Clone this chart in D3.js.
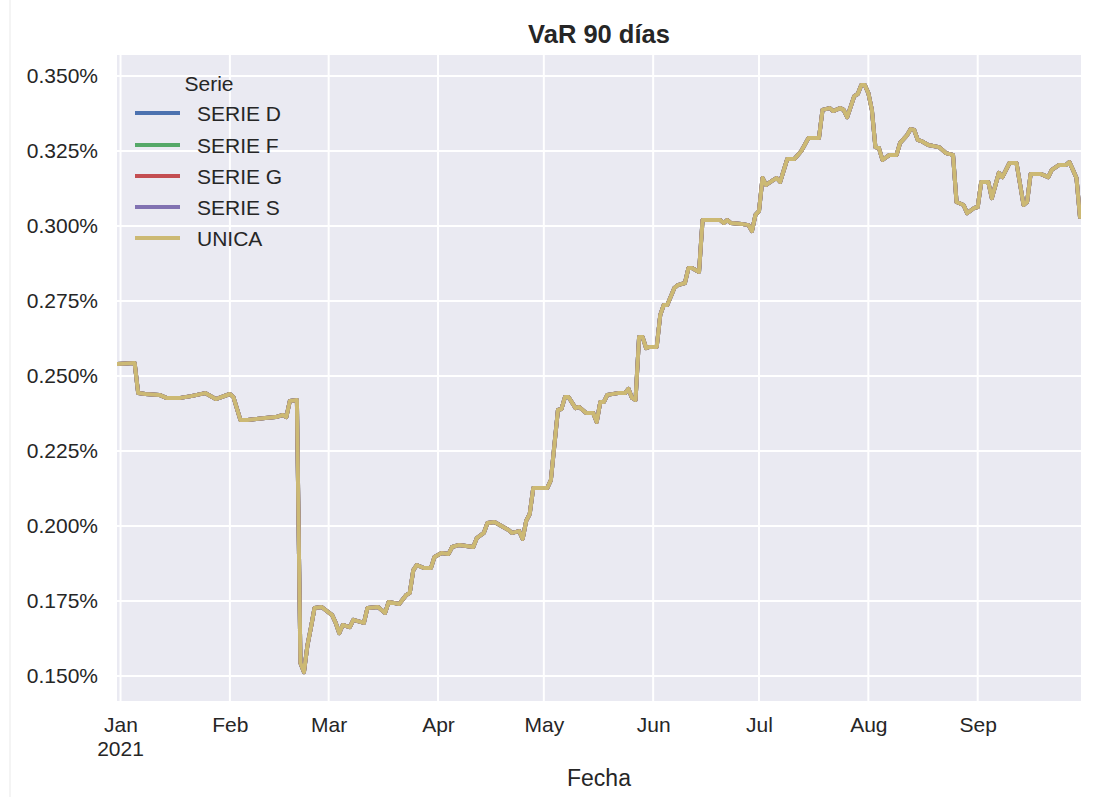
<!DOCTYPE html>
<html>
<head>
<meta charset="utf-8">
<script src="https://cdn.jsdelivr.net/npm/d3@7"></script>
<style>
html,body{margin:0;padding:0;background:#fff;}
svg{display:block;font-family:"Liberation Sans",Arial,Helvetica,sans-serif;}
</style>
</head>
<body>
<svg id="chart" width="1096" height="797"></svg>
<script>
const title = "VaR 90 días";
const xLabel = "Fecha";
const legendTitle = "Serie";
const seriesNames = ["SERIE D", "SERIE F", "SERIE G", "SERIE S", "UNICA"];
const seriesColors = ["#4c72b0", "#55a868", "#c44e52", "#8172b2", "#ccb974"];
const yTicks = [0.150, 0.175, 0.200, 0.225, 0.250, 0.275, 0.300, 0.325, 0.350];
const monthTicks = ["2021-01-01","2021-02-01","2021-03-01","2021-04-01","2021-05-01","2021-06-01","2021-07-01","2021-08-01","2021-09-01"];
const monthLabels = ["Jan","Feb","Mar","Apr","May","Jun","Jul","Aug","Sep"];

const dates = [
"2020-12-31","2021-01-05","2021-01-06","2021-01-08","2021-01-12","2021-01-14","2021-01-18","2021-01-21","2021-01-25","2021-01-28",
"2021-02-01","2021-02-02","2021-02-04","2021-02-06","2021-02-11","2021-02-14","2021-02-16","2021-02-17","2021-02-18","2021-02-20",
"2021-02-21","2021-02-22","2021-02-23","2021-02-24","2021-02-25","2021-02-27","2021-03-02","2021-03-03","2021-03-04","2021-03-05",
"2021-03-07","2021-03-08","2021-03-11","2021-03-12","2021-03-15","2021-03-17","2021-03-18","2021-03-21","2021-03-23","2021-03-24",
"2021-03-25","2021-03-26","2021-03-28","2021-03-30","2021-03-31","2021-04-02","2021-04-04","2021-04-05","2021-04-07","2021-04-11",
"2021-04-12","2021-04-14","2021-04-15","2021-04-17","2021-04-19","2021-04-21","2021-04-22","2021-04-24","2021-04-25","2021-04-26",
"2021-04-27","2021-04-28","2021-05-02","2021-05-03","2021-05-05","2021-05-06","2021-05-07","2021-05-08","2021-05-10","2021-05-11",
"2021-05-13","2021-05-15","2021-05-16","2021-05-17","2021-05-18","2021-05-19","2021-05-22","2021-05-24","2021-05-25","2021-05-26",
"2021-05-27","2021-05-28","2021-05-29","2021-05-30","2021-05-31","2021-06-02","2021-06-03","2021-06-04","2021-06-05","2021-06-07",
"2021-06-08","2021-06-10","2021-06-11","2021-06-12","2021-06-14","2021-06-15","2021-06-20","2021-06-21","2021-06-22","2021-06-23",
"2021-06-26","2021-06-28","2021-06-29","2021-06-30","2021-07-01","2021-07-02","2021-07-03","2021-07-05","2021-07-06","2021-07-07",
"2021-07-09","2021-07-11","2021-07-13","2021-07-15","2021-07-18","2021-07-19","2021-07-21","2021-07-22","2021-07-24","2021-07-25",
"2021-07-26","2021-07-28","2021-07-29","2021-07-30","2021-07-31","2021-08-01","2021-08-02","2021-08-03","2021-08-04","2021-08-05",
"2021-08-07","2021-08-09","2021-08-10","2021-08-12","2021-08-13","2021-08-14","2021-08-15","2021-08-16","2021-08-18","2021-08-21",
"2021-08-23","2021-08-25","2021-08-26","2021-08-28","2021-08-29","2021-08-31","2021-09-01","2021-09-02","2021-09-04","2021-09-05",
"2021-09-07","2021-09-08","2021-09-10","2021-09-12","2021-09-14","2021-09-15","2021-09-16","2021-09-19","2021-09-21","2021-09-22",
"2021-09-24","2021-09-26","2021-09-27","2021-09-28","2021-09-29","2021-09-30"
];
const varValues = [
0.2540,0.2543,0.2443,0.2440,0.2437,0.2427,0.2427,0.2433,0.2443,0.2423,
0.2440,0.2430,0.2353,0.2353,0.2360,0.2363,0.2370,0.2363,0.2417,0.2420,
0.1543,0.1513,0.1603,0.1663,0.1727,0.1730,0.1703,0.1677,0.1643,0.1670,
0.1663,0.1687,0.1677,0.1727,0.1730,0.1710,0.1747,0.1740,0.1770,0.1777,
0.1853,0.1870,0.1860,0.1860,0.1897,0.1910,0.1907,0.1930,0.1937,0.1930,
0.1960,0.1977,0.2010,0.2013,0.2000,0.1987,0.1977,0.1983,0.1957,0.2017,
0.2040,0.2127,0.2127,0.2153,0.2387,0.2390,0.2430,0.2430,0.2393,0.2397,
0.2377,0.2377,0.2347,0.2413,0.2413,0.2437,0.2443,0.2443,0.2457,0.2427,
0.2420,0.2630,0.2630,0.2593,0.2597,0.2597,0.2703,0.2737,0.2737,0.2793,
0.2803,0.2810,0.2860,0.2860,0.2847,0.3020,0.3020,0.3010,0.3020,0.3010,
0.3007,0.3003,0.2983,0.3037,0.3050,0.3160,0.3137,0.3153,0.3160,0.3147,
0.3223,0.3223,0.3250,0.3293,0.3293,0.3387,0.3393,0.3383,0.3393,0.3387,
0.3363,0.3433,0.3440,0.3470,0.3470,0.3443,0.3387,0.3263,0.3260,0.3220,
0.3237,0.3237,0.3277,0.3303,0.3323,0.3320,0.3287,0.3283,0.3270,0.3263,
0.3243,0.3237,0.3080,0.3070,0.3043,0.3060,0.3063,0.3147,0.3147,0.3093,
0.3177,0.3163,0.3210,0.3210,0.3070,0.3080,0.3173,0.3173,0.3163,0.3187,
0.3203,0.3203,0.3213,0.3187,0.3160,0.3030
];

const parse = d3.timeParse("%Y-%m-%d");
const data = dates.map((d, i) => ({date: parse(d), value: varValues[i]}));

const svg = d3.select("#chart");
const W = 1096, H = 797;
const plot = {left: 117, right: 1081, top: 55, bottom: 701};
const textColor = "#262626";

// faint screenshot border
svg.append("line").attr("x1", 10).attr("x2", 10).attr("y1", 0).attr("y2", H)
  .attr("stroke", "#f0f0f0").attr("stroke-width", 1.5);

const x = d3.scaleTime()
  .domain([parse("2020-12-31"), parse("2021-09-30")])
  .range([plot.left, plot.right - 1]);
const y = d3.scaleLinear()
  .domain([0.350 - (plot.bottom - 76) / 3000, 0.350 + (76 - plot.top) / 3000])
  .range([plot.bottom, plot.top]);

svg.append("rect")
  .attr("x", plot.left).attr("y", plot.top)
  .attr("width", plot.right - plot.left).attr("height", plot.bottom - plot.top)
  .attr("fill", "#eaeaf2");

// grid
const monthDates = monthTicks.map(parse);
svg.append("g").selectAll("line").data(monthDates).join("line")
  .attr("x1", d => x(d)).attr("x2", d => x(d))
  .attr("y1", plot.top).attr("y2", plot.bottom)
  .attr("stroke", "#fff").attr("stroke-width", 2);
svg.append("g").selectAll("line").data(yTicks).join("line")
  .attr("x1", plot.left).attr("x2", plot.right)
  .attr("y1", d => y(d)).attr("y2", d => y(d))
  .attr("stroke", "#fff").attr("stroke-width", 2);

// axes
const yAxis = d3.axisLeft(y).tickValues(yTicks).tickSize(0).tickPadding(19)
  .tickFormat(d => d.toFixed(3) + "%");
const gy = svg.append("g").attr("transform", `translate(${plot.left},0)`).call(yAxis);
gy.select(".domain").remove();
gy.selectAll("text").attr("font-size", 21).attr("fill", textColor)
  .attr("font-family", "Liberation Sans, Arial, sans-serif");

const xAxis = d3.axisBottom(x).tickValues(monthDates).tickSize(0).tickPadding(16)
  .tickFormat((d, i) => monthLabels[i]);
const gx = svg.append("g").attr("transform", `translate(0,${plot.bottom})`).call(xAxis);
gx.select(".domain").remove();
gx.selectAll("text").attr("font-size", 21).attr("fill", textColor)
  .attr("font-family", "Liberation Sans, Arial, sans-serif");
svg.append("text").attr("x", x(monthDates[0])).attr("y", 756)
  .attr("text-anchor", "middle").attr("font-size", 21).attr("fill", textColor)
  .text("2021");

// lines
const line = d3.line().x(d => x(d.date)).y(d => y(d.value)).curve(d3.curveLinear);
svg.append("defs").append("clipPath").attr("id", "clip")
  .append("rect").attr("x", plot.left).attr("y", plot.top)
  .attr("width", plot.right - plot.left).attr("height", plot.bottom - plot.top);
const lg = svg.append("g").attr("clip-path", "url(#clip)");
seriesNames.forEach((name, i) => {
  lg.append("path").datum(data)
    .attr("fill", "none").attr("stroke", seriesColors[i])
    .attr("stroke-width", 4).attr("stroke-linejoin", "round").attr("stroke-linecap", "round")
    .attr("d", line);
});

// title & labels
svg.append("text").attr("x", (plot.left + plot.right) / 2 + 0).attr("y", 43)
  .attr("text-anchor", "middle").attr("font-size", 25.5).attr("font-weight", "bold")
  .attr("fill", textColor).text(title);
svg.append("text").attr("x", 599).attr("y", 786)
  .attr("text-anchor", "middle").attr("font-size", 23).attr("fill", textColor)
  .text(xLabel);

// legend
const leg = svg.append("g");
leg.append("text").attr("x", 209).attr("y", 91).attr("text-anchor", "middle")
  .attr("font-size", 21).attr("fill", textColor).text(legendTitle);
const legY = [113, 145, 176, 207, 238];
seriesNames.forEach((name, i) => {
  leg.append("line").attr("x1", 135).attr("x2", 180)
    .attr("y1", legY[i]).attr("y2", legY[i])
    .attr("stroke", seriesColors[i]).attr("stroke-width", 4);
  leg.append("text").attr("x", 197).attr("y", legY[i] + 7.5)
    .attr("font-size", 21).attr("fill", textColor).text(name);
});
</script>
</body>
</html>
